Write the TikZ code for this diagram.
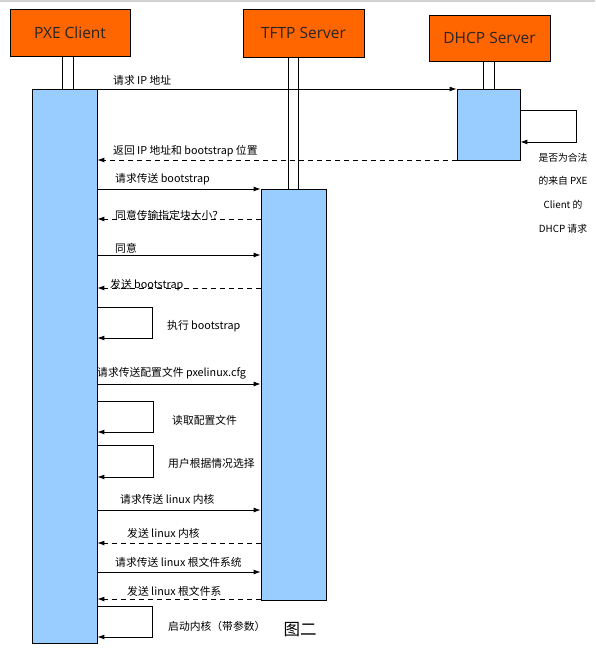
\documentclass[tikz,border=0pt]{standalone}
\usepackage{fontspec}
\usepackage{tikz}
\usetikzlibrary{arrows.meta}
\setmainfont{Open Sans}
\newfontfamily\cjk{Noto Sans CJK SC}
\definecolor{actorfill}{HTML}{FF6600}
\definecolor{barfill}{HTML}{99CCFF}
\tikzset{
  actor/.style={draw=black, line width=0.8pt, fill=actorfill, text=black!85,
    font=\fontsize{15.5}{17}\selectfont},
  lifebar/.style={draw=black, line width=0.8pt, fill=barfill},
  msg/.style={line width=0.9pt, -{Latex[length=7pt,width=5pt]}},
  reply/.style={msg, dash pattern=on 5pt off 4pt},
  lbl/.style={font=\cjk\fontsize{10.8}{12}\selectfont, anchor=west}
}
\begin{document}
\begin{tikzpicture}[x=1pt,y=-1pt]
    \tikzstyle{every node}+=[inner sep=0pt]
    \useasboundingbox (0,0) rectangle (595,648);
    \draw [gray!35, line width=1.5pt] (0,0.75) -- (595,0.75);
    % actors
    \node [actor, minimum width=120pt, minimum height=47pt] (pxe) at (70,32.5) {PXE Client};
    \node [actor, minimum width=121pt, minimum height=48pt] (tftp) at (303.5,33) {TFTP Server};
    \node [actor, minimum width=121pt, minimum height=46pt] (dhcp) at (489.5,38) {DHCP Server};
    % activation bars
    \node [lifebar, minimum width=65pt, minimum height=554pt] (pxebar) at (64.5,366) {};
    \node [lifebar, minimum width=65pt, minimum height=411pt] (tftpbar) at (293.5,394.5) {};
    \node [lifebar, minimum width=63pt, minimum height=71pt] (dhcpbar) at (488.5,124.5) {};
    % lifelines
    \draw [line width=0.8pt] (pxe.south -| 62,0) -- (pxebar.north -| 62,0);
    \draw [line width=0.8pt] (pxe.south -| 73,0) -- (pxebar.north -| 73,0);
    \draw [line width=0.8pt] (tftp.south -| 288,0) -- (tftpbar.north -| 288,0);
    \draw [line width=0.8pt] (tftp.south -| 298,0) -- (tftpbar.north -| 298,0);
    \draw [line width=0.8pt] (dhcp.south -| 483,0) -- (dhcpbar.north -| 483,0);
    \draw [line width=0.8pt] (dhcp.south -| 494,0) -- (dhcpbar.north -| 494,0);
    % messages
    \draw [msg] (pxebar.east |- 0,89) -- (dhcpbar.west |- 0,89);
    \node [lbl] (reqip) at (113,80) {请求 IP 地址};
    \draw [msg] (dhcpbar.east |- 0,110) -| (576,142) -- (dhcpbar.east |- 0,142);
    \node [font=\cjk\fontsize{9.8}{23.7}\selectfont, align=center] (check) at (563,193)
      {是否为合法\\的来自 PXE\\Client 的\\DHCP 请求};
    \draw [reply] (dhcpbar.west |- 0,160) -- (pxebar.east |- 0,160);
    \node [lbl] (retip) at (113,151) {返回 IP 地址和 bootstrap 位置};
    \draw [msg] (pxebar.east |- 0,189) -- (tftpbar.west |- 0,189);
    \node [lbl] (reqboot) at (115,179) {请求传送 bootstrap};
    \draw [reply] (tftpbar.west |- 0,219) -- (pxebar.east |- 0,219);
    \node [lbl] (blksize) at (115,215) {同意传输指定块大小？};
    \draw [msg] (pxebar.east |- 0,255) -- (tftpbar.west |- 0,255);
    \node [lbl] (agree) at (115,248) {同意};
    \draw [reply] (tftpbar.west |- 0,288) -- (pxebar.east |- 0,288);
    \node [lbl] (sendboot) at (110,285) {发送 bootstrap};
    \draw [msg] (pxebar.east |- 0,307) -| (152,338) -- (pxebar.east |- 0,338);
    \node [lbl] (runboot) at (167,326) {执行 bootstrap};
    \draw [msg] (pxebar.east |- 0,384) -- (tftpbar.west |- 0,384);
    \node [lbl] (reqcfg) at (97,373) {请求传送配置文件 pxelinux.cfg};
    \draw [msg] (pxebar.east |- 0,401) -| (153,432) -- (pxebar.east |- 0,432);
    \node [lbl] (readcfg) at (172,420) {读取配置文件};
    \draw [msg] (pxebar.east |- 0,445) -| (153,477) -- (pxebar.east |- 0,477);
    \node [lbl] (choose) at (168,463) {用户根据情况选择};
    \draw [msg] (pxebar.east |- 0,510) -- (tftpbar.west |- 0,510);
    \node [lbl] (reqkern) at (120,499) {请求传送 linux 内核};
    \draw [reply] (tftpbar.west |- 0,543) -- (pxebar.east |- 0,543);
    \node [lbl] (sendkern) at (127,533) {发送 linux 内核};
    \draw [msg] (pxebar.east |- 0,572) -- (tftpbar.west |- 0,572);
    \node [lbl] (reqroot) at (115,562) {请求传送 linux 根文件系统};
    \draw [reply] (tftpbar.west |- 0,599) -- (pxebar.east |- 0,599);
    \node [lbl] (sendroot) at (127,591) {发送 linux 根文件系};
    \draw [msg] (pxebar.east |- 0,606) -| (152,637) -- (pxebar.east |- 0,637);
    \node [lbl] (boot) at (168,626) {启动内核（带参数）};
    \node [font=\cjk\fontsize{16.5}{18}\selectfont] (fig) at (300,630) {图二};
\end{tikzpicture}
\end{document}
